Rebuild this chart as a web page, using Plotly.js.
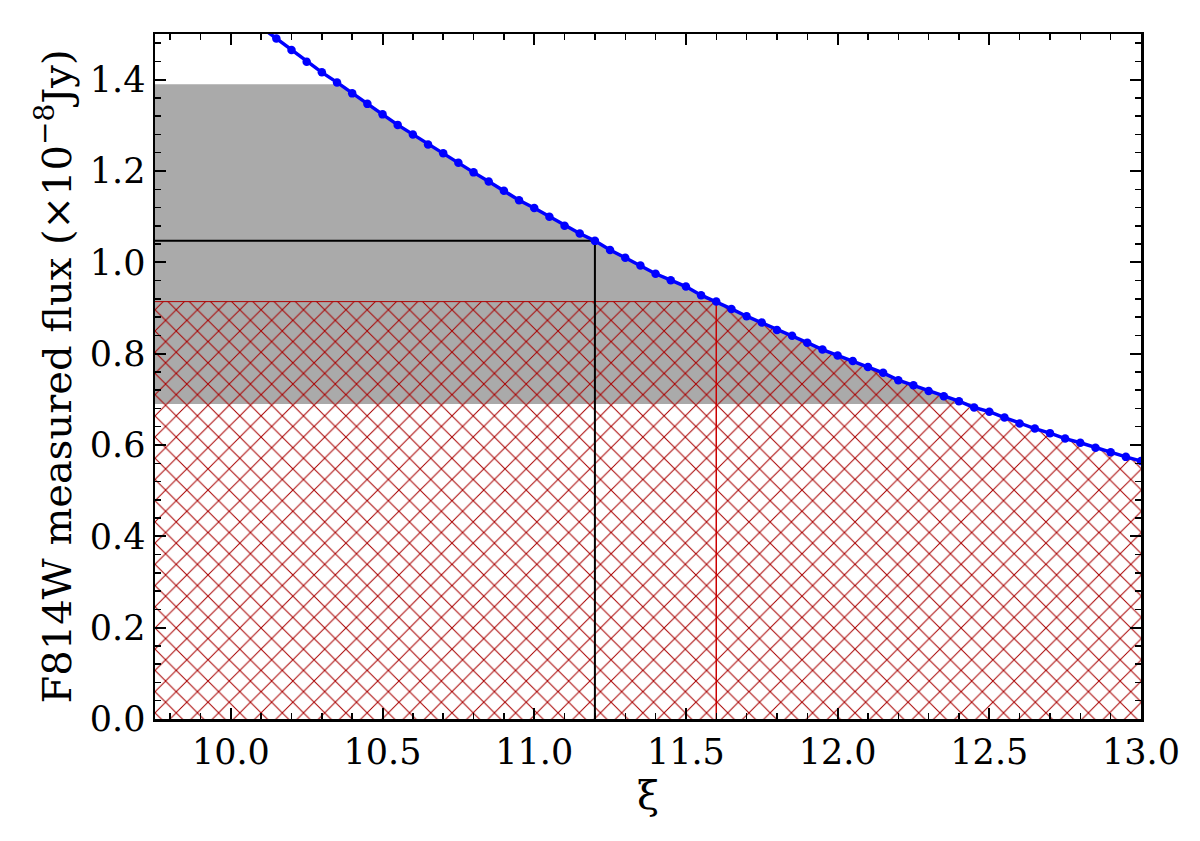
<!DOCTYPE html>
<html>
<head>
<meta charset="utf-8">
<script src="https://cdn.plot.ly/plotly-3.0.1.min.js"></script>
<style>
  html, body { margin: 0; padding: 0; background: white; }
  #plot { width: 1200px; height: 841px; }
</style>
</head>
<body>
<div id="plot"></div>
<script>
// curve, one point every 0.05 in xi
const xi = [10.10, 10.15, 10.20, 10.25, 10.30, 10.35, 10.40, 10.45, 10.50, 10.55,
            10.60, 10.65, 10.70, 10.75, 10.80, 10.85, 10.90, 10.95, 11.00, 11.05,
            11.10, 11.15, 11.20, 11.25, 11.30, 11.35, 11.40, 11.45, 11.50, 11.55,
            11.60, 11.65, 11.70, 11.75, 11.80, 11.85, 11.90, 11.95, 12.00, 12.05,
            12.10, 12.15, 12.20, 12.25, 12.30, 12.35, 12.40, 12.45, 12.50, 12.55,
            12.60, 12.65, 12.70, 12.75, 12.80, 12.85, 12.90, 12.95, 13.00];
const flux = [1.515, 1.490, 1.465, 1.439, 1.416, 1.394, 1.370, 1.347, 1.324, 1.301,
              1.280, 1.258, 1.239, 1.218, 1.197, 1.177, 1.157, 1.136, 1.119, 1.100,
              1.080, 1.063, 1.047, 1.027, 1.010, 0.993, 0.975, 0.961, 0.947, 0.928,
              0.914, 0.898, 0.882, 0.868, 0.852, 0.839, 0.824, 0.809, 0.796, 0.784,
              0.771, 0.758, 0.742, 0.731, 0.718, 0.707, 0.696, 0.682, 0.673, 0.660,
              0.647, 0.636, 0.626, 0.614, 0.605, 0.594, 0.584, 0.574, 0.565];

// shaded band and marked levels
const xMin = 9.75, xMax = 13.0;
const grayLow = 0.69, grayHigh = 1.39;
const hatchHigh = 0.914;
const blackX = 11.2, blackY = 1.047;
const redX = 11.6;

const serif = "'DejaVu Serif', 'Liberation Serif', serif";
const clamp = (v, lo, hi) => Math.min(Math.max(v, lo), hi);

// gray band: between grayLow and min(curve, grayHigh)
const grayX = [xMin].concat(xi, [xMax, xMin]);
const grayY = [grayHigh].concat(flux.map(v => clamp(v, grayLow, grayHigh)), [grayLow, grayLow]);

// hatched band: from 0 up to min(curve, hatchHigh)
const hatchX = [xMin].concat(xi, [xMax, xMin]);
const hatchY = [hatchHigh].concat(flux.map(v => Math.min(v, hatchHigh)), [0, 0]);

const data = [
    { x: grayX, y: grayY, type: 'scatter', mode: 'lines', fill: 'toself',
      fillcolor: '#aaaaaa', line: { width: 0 }, hoverinfo: 'skip' },
    { x: hatchX, y: hatchY, type: 'scatter', mode: 'lines', fill: 'toself',
      fillcolor: 'rgba(0,0,0,0)',
      fillpattern: { shape: 'x', fgcolor: '#a80000', bgcolor: 'rgba(0,0,0,0)', size: 15, solidity: 0.13 },
      line: { width: 0 }, hoverinfo: 'skip' },
    // top edge of the hatched band
    { x: [xMin, redX], y: [hatchHigh, hatchHigh], type: 'scatter', mode: 'lines',
      line: { color: '#b00000', width: 1 } },
    { x: [xMin, blackX, blackX], y: [blackY, blackY, 0], type: 'scatter', mode: 'lines',
      line: { color: 'black', width: 2 } },
    { x: [redX, redX], y: [hatchHigh, 0], type: 'scatter', mode: 'lines',
      line: { color: '#cc0000', width: 1.5 } },
    { x: xi, y: flux, type: 'scatter', mode: 'lines+markers',
      line: { color: '#0000ff', width: 3.5 }, marker: { color: '#0000ff', size: 8.5 } }
];

const axisStyle = {
    showline: true, linecolor: 'black', linewidth: 2.5, mirror: 'allticks',
    ticks: 'inside', ticklen: 11, tickwidth: 2, tickcolor: 'black',
    showgrid: false, zeroline: false,
    tickfont: { family: serif, size: 35, color: 'black' }
};

const layout = {
    width: 1200, height: 841,
    margin: { l: 155, r: 59, t: 34, b: 122 },
    paper_bgcolor: 'white', plot_bgcolor: 'white',
    showlegend: false,
    xaxis: Object.assign({}, axisStyle, {
        range: [xMin, xMax], tick0: 10, dtick: 0.5, tickformat: '.1f',
        minor: { dtick: 0.1, ticks: 'inside', ticklen: 6, tickwidth: 1.5, tickcolor: 'black' },
        title: { text: 'ξ', standoff: 8, font: { family: serif, size: 40, color: 'black' } }
    }),
    yaxis: Object.assign({}, axisStyle, {
        range: [0, 1.5], tick0: 0, dtick: 0.2, tickformat: '.1f',
        minor: { dtick: 0.04, ticks: 'inside', ticklen: 6, tickwidth: 1.5, tickcolor: 'black' },
        title: { text: 'F814W measured flux (×10<sup>−8</sup>Jy)', standoff: 6,
                 font: { family: serif, size: 40, color: 'black' } }
    })
};

Plotly.newPlot('plot', data, layout, { staticPlot: true });
</script>
</body>
</html>
